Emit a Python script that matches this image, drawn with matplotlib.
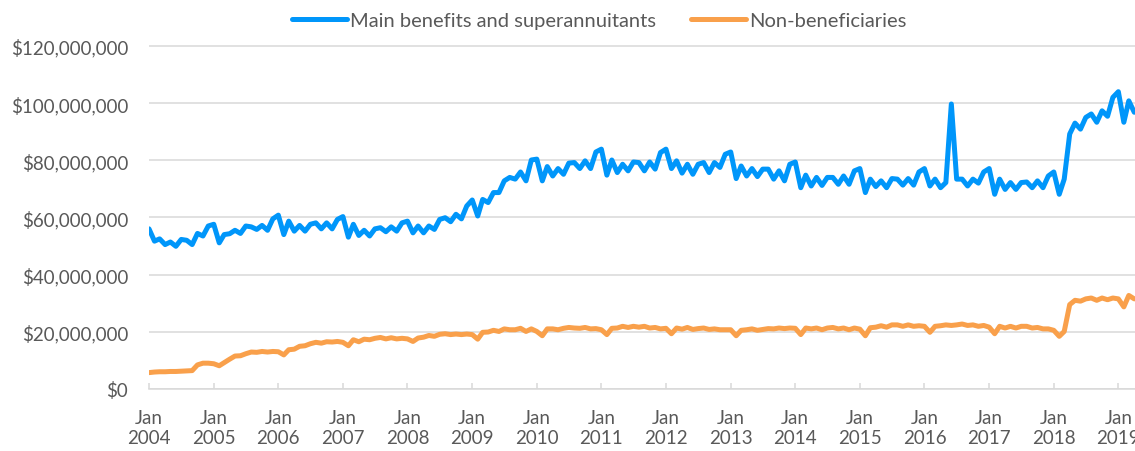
import matplotlib
matplotlib.use("Agg")
import matplotlib.pyplot as plt
import pandas as pd
from matplotlib.ticker import FuncFormatter, FixedLocator

# Monthly spending, Jan 2004 - Apr 2019 ($ millions)
start_month = "2004-01-01"

main_benefits = [
    56.0, 51.7, 52.5, 50.5, 51.4, 49.9, 52.3, 52.0, 50.5, 54.4, 53.5, 57.0,
    57.6, 51.1, 54.0, 54.3, 55.5, 54.4, 57.0, 56.7, 55.8, 57.2, 55.5, 59.5,
    60.8, 54.0, 58.7, 55.2, 57.2, 55.2, 57.6, 58.1, 56.0, 58.1, 56.0, 59.3,
    60.3, 53.1, 57.6, 53.7, 55.5, 53.5, 56.0, 56.4, 55.0, 56.7, 55.2, 58.1,
    58.7, 54.6, 57.0, 54.6, 57.0, 55.8, 59.3, 59.9, 58.5, 61.1, 59.5, 64.0,
    66.1, 60.5, 66.3, 65.2, 68.7, 68.7, 72.8, 74.0, 73.4, 75.9, 72.8, 80.1,
    80.4, 72.8, 77.8, 74.5, 77.1, 75.1, 79.0, 79.2, 77.1, 79.8, 77.1, 82.9,
    83.9, 74.8, 80.1, 75.7, 78.6, 76.3, 79.4, 79.2, 76.3, 79.4, 76.9, 82.7,
    83.9, 77.1, 79.8, 75.5, 78.6, 75.1, 78.6, 79.2, 75.7, 79.2, 77.5, 82.1,
    82.9, 73.6, 78.0, 74.5, 77.1, 74.3, 76.9, 76.9, 73.4, 76.3, 72.8, 78.6,
    79.4, 70.4, 74.8, 71.0, 74.0, 71.2, 74.0, 74.0, 71.6, 74.5, 71.6, 76.3,
    77.1, 68.7, 73.4, 70.8, 72.8, 70.4, 73.6, 73.4, 71.3, 73.6, 71.3, 75.9,
    77.1, 71.0, 73.4, 70.4, 72.2, 99.7, 73.4, 73.4, 71.0, 73.4, 72.0, 75.9,
    77.1, 68.1, 73.4, 69.8, 72.2, 69.8, 72.2, 72.4, 70.4, 72.8, 70.4, 74.5,
    75.9, 68.1, 73.4, 89.2, 93.0, 90.9, 95.0, 96.2, 93.3, 97.3, 95.4, 102.0,
    104.0, 93.3, 100.8, 96.8,
]

non_beneficiaries = [
    5.7, 5.9, 6.0, 6.0, 6.1, 6.1, 6.2, 6.3, 6.4, 8.4, 9.0, 9.0,
    8.8, 8.1, 9.2, 10.4, 11.5, 11.6, 12.3, 12.9, 12.8, 13.1, 12.9, 13.1,
    13.0, 11.9, 13.7, 13.9, 14.9, 15.1, 15.8, 16.3, 16.0, 16.5, 16.4, 16.6,
    16.3, 15.1, 17.2, 16.5, 17.4, 17.2, 17.7, 18.0, 17.5, 17.9, 17.5, 17.7,
    17.5, 16.6, 17.8, 18.1, 18.7, 18.4, 19.1, 19.3, 19.0, 19.2, 19.0, 19.2,
    19.0, 17.4, 19.8, 19.9, 20.5, 20.1, 21.0, 20.7, 20.7, 21.2, 20.1, 21.0,
    20.1, 18.6, 21.0, 21.0, 20.7, 21.2, 21.5, 21.3, 21.2, 21.5, 21.0, 21.1,
    20.7, 19.0, 21.2, 21.3, 21.9, 21.5, 21.9, 21.6, 21.9, 21.3, 21.5, 21.0,
    21.2, 19.3, 21.3, 20.9, 21.5, 20.8, 21.1, 21.3, 20.8, 21.0, 20.7, 20.7,
    20.7, 18.6, 20.5, 20.7, 21.0, 20.5, 20.8, 21.1, 21.0, 21.3, 21.1, 21.3,
    21.2, 19.0, 21.3, 21.0, 21.3, 20.7, 21.3, 21.5, 21.0, 21.3, 20.7, 21.3,
    20.9, 18.6, 21.4, 21.6, 22.1, 21.6, 22.4, 22.4, 21.9, 22.4, 21.9, 22.1,
    21.9, 19.8, 21.9, 22.1, 22.4, 22.2, 22.4, 22.7, 22.2, 22.4, 21.9, 22.2,
    21.6, 19.3, 21.9, 21.3, 21.9, 21.3, 21.9, 21.9, 21.3, 21.5, 21.0, 21.0,
    20.5, 18.4, 20.1, 29.5, 31.0, 30.7, 31.5, 31.8, 31.0, 31.8, 31.2, 31.8,
    31.5, 28.7, 32.7, 31.5,
]

series_labels = ["Main benefits and superannuitants", "Non-beneficiaries"]
tick_years = list(range(2004, 2020))
y_ticks = [0, 20e6, 40e6, 60e6, 80e6, 100e6, 120e6]

months = pd.date_range(start_month, periods=len(main_benefits), freq="MS")
main_vals = [v * 1e6 for v in main_benefits]
non_vals = [v * 1e6 for v in non_beneficiaries]

BLUE = "#0096FA"
ORANGE = "#F9A04B"
GRID = "#D9D9D9"
TEXT = "#595959"

plt.rcParams["font.family"] = ["Lato", "DejaVu Sans"]

W, H = 1135, 452
fig = plt.figure(figsize=(W / 100, H / 100), dpi=100)
left_px, right_px = 149, 1135
top_px, bottom_px = 44.1, 389.9
ax = fig.add_axes([left_px / W, 1 - bottom_px / H,
                   (right_px - left_px) / W, (bottom_px - top_px) / H])

ax.plot(months, main_vals, color=BLUE, lw=3.6, solid_joinstyle="round",
        solid_capstyle="round", label=series_labels[0], zorder=3)
ax.plot(months, non_vals, color=ORANGE, lw=3.6, solid_joinstyle="round",
        solid_capstyle="round", label=series_labels[1], zorder=3)

x0 = pd.Timestamp(start_month)
ax.set_xlim(x0, x0 + pd.Timedelta(days=183.1 * 30.4375))
ax.set_ylim(0, 121e6)

ax.yaxis.set_major_locator(FixedLocator(y_ticks))
ax.yaxis.set_major_formatter(FuncFormatter(lambda v, p: f"${v:,.0f}"))
ax.grid(axis="y", color=GRID, lw=1.1, zorder=0)
ax.set_axisbelow(True)

tick_dates = [pd.Timestamp(f"{y}-01-01") for y in tick_years]
ax.set_xticks(tick_dates)
ax.set_xticklabels([f"Jan\n{y}" for y in tick_years], linespacing=1.22)

for side in ["top", "right", "left"]:
    ax.spines[side].set_visible(False)
ax.spines["bottom"].set_color(GRID)
ax.spines["bottom"].set_linewidth(1.1)

ax.tick_params(axis="y", length=0, pad=15, labelsize=13.5, labelcolor=TEXT)
ax.tick_params(axis="x", direction="in", length=4.5, width=1.1, color=GRID,
               pad=14.5, labelsize=13.5, labelcolor=TEXT)
for lbl in ax.get_xticklabels():
    lbl.set_clip_on(False)

leg = fig.legend(loc="center", bbox_to_anchor=(599 / W, 1 - 21 / H), ncol=2,
                 frameon=False, fontsize=14.5, handlelength=2.73,
                 handletextpad=0.15, columnspacing=1.74, labelcolor=TEXT)
for line in leg.get_lines():
    line.set_linewidth(3.6)
    line.set_solid_capstyle("round")

fig.savefig("out.png", dpi=100)
